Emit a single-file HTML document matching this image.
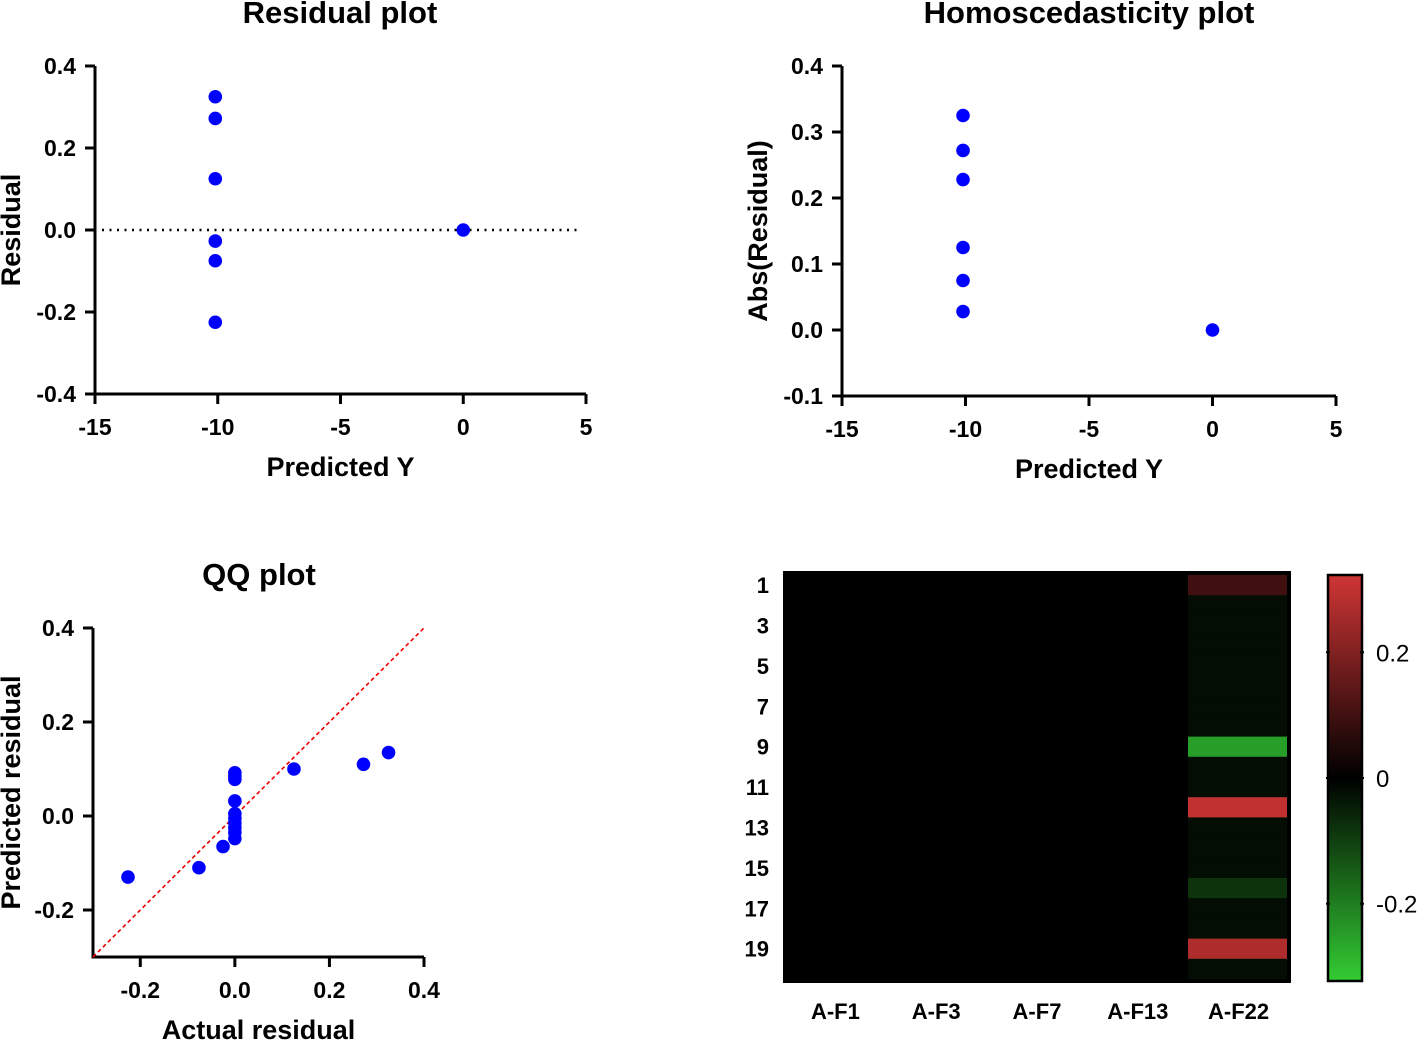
<!DOCTYPE html>
<html><head><meta charset="utf-8"><style>
html,body{margin:0;padding:0;background:#fff;}
svg{display:block;font-family:"Liberation Sans",Arial,sans-serif;}
</style></head><body>
<svg id="s" width="1418" height="1040" viewBox="0 0 1418 1040" xmlns="http://www.w3.org/2000/svg"></svg>
<script>
// ---- data ----
const resX = [-10.1,-10.1,-10.1,-10.1,-10.1,-10.1,0];
const resY = [0.325,0.272,0.125,-0.027,-0.075,-0.225,0];
const resXTicks = [-15,-10,-5,0,5];
const resYTicks = [-0.4,-0.2,0.0,0.2,0.4];

const homX = [-10.1,-10.1,-10.1,-10.1,-10.1,-10.1,0];
const homY = [0.325,0.272,0.228,0.125,0.075,0.028,0];
const homXTicks = [-15,-10,-5,0,5];
const homYTicks = [-0.1,0.0,0.1,0.2,0.3,0.4];

const qqX = [-0.226,-0.076,-0.025,0,0,0,0,0,0,0,0,0,0,0.125,0.272,0.325];
const qqY = [-0.13,-0.11,-0.065,0.092,0.085,0.078,0.032,0.005,-0.005,-0.015,-0.025,-0.035,-0.048,0.10,0.11,0.135];
const qqXTicks = [-0.2,0.0,0.2,0.4];
const qqYTicks = [-0.2,0.0,0.2,0.4];

const hmCols = ["A-F1","A-F3","A-F7","A-F13","A-F22"];
const hmRowLabels = [1,3,5,7,9,11,13,15,17,19];
const hmF22 = [0.10,-0.02,-0.02,-0.02,-0.02,-0.02,-0.02,-0.02,-0.25,-0.02,-0.02,0.30,-0.02,-0.02,-0.02,-0.08,-0.02,-0.02,0.27,-0.02];
const cbTicks = [-0.2,0,0.2];

const S = document.getElementById('s');
const NS = 'http://www.w3.org/2000/svg';
function mk(tag, attrs, parent){
  const e = document.createElementNS(NS, tag);
  for (const k in attrs) e.setAttribute(k, attrs[k]);
  (parent||S).appendChild(e);
  return e;
}
function txt(x,y,s,size,anchor,bold,parent,rot){
  const e = mk('text',{x:x,y:y,'font-size':size,'text-anchor':anchor||'middle','font-weight':bold?'bold':'normal',fill:'#000'},parent);
  if (rot) e.setAttribute('transform','rotate(-90 '+x+' '+y+')');
  e.textContent = s;
  return e;
}
function fmt(v,d){ return v.toFixed(d); }

function scatter(opt){
  const g = mk('g',{});
  
  
  const sx = v => opt.x0 + (v - opt.xmin) / (opt.xmax - opt.xmin) * (opt.x1 - opt.x0);
  const sy = v => opt.y0 - (v - opt.ymin) / (opt.ymax - opt.ymin) * (opt.y0 - opt.y1);
  const ax = mk('path',{d:`M${opt.x0} ${opt.y1} L${opt.x0} ${opt.y0} L${opt.x1} ${opt.y0}`,stroke:'#000','stroke-width':3,fill:'none'},g);
  
  
  opt.xticks.forEach(v=>{
    const x = sx(v);
    mk('line',{x1:x,y1:opt.y0,x2:x,y2:opt.y0+10,stroke:'#000','stroke-width':3},g);
    const t = txt(x, opt.y0+41, fmt(v,opt.xd), 23, 'middle', true, g);
    
    
  });
  opt.yticks.forEach(v=>{
    const y = sy(v);
    mk('line',{x1:opt.x0-10,y1:y,x2:opt.x0,y2:y,stroke:'#000','stroke-width':3},g);
    const t = txt(opt.x0-19, y+8, fmt(v,opt.yd), 23, 'end', true, g);
    
    
  });
  if (opt.extra) opt.extra(g, sx, sy);
  opt.xs.forEach((v,i)=>{
    const c = mk('circle',{cx:sx(v),cy:sy(opt.ys[i]),r:6.8,fill:'#0000ff'},g);
    
    
  });
  const ti = txt(opt.titleX, opt.titleY, opt.title, 31, 'middle', true, g);
  
  
  const xt = txt((opt.x0+opt.x1)/2, opt.y0+82, opt.xlabel, 27, 'middle', true, g);
  
  
  const yt = txt(opt.ytx, (opt.y0+opt.y1)/2, opt.ylabel, 27, 'middle', true, g, true);
  
  
}

scatter({name:'residual-plot',x0:95,x1:586,y0:394,y1:66,xmin:-15,xmax:5,ymin:-0.4,ymax:0.4,
  xticks:resXTicks,yticks:resYTicks,xd:0,yd:1,xs:resX,ys:resY,
  title:'Residual plot',titleX:340,titleY:23,xlabel:'Predicted Y',ylabel:'Residual',ytx:20,
  extra:(g,sx,sy)=>{
    const l = mk('line',{x1:102,y1:sy(0),x2:582,y2:sy(0),stroke:'#000','stroke-width':2.5,'stroke-dasharray':'2 5.5'},g);
    
    
  }});

scatter({name:'homoscedasticity-plot',x0:842,x1:1336,y0:396,y1:66,xmin:-15,xmax:5,ymin:-0.1,ymax:0.4,
  xticks:homXTicks,yticks:homYTicks,xd:0,yd:1,xs:homX,ys:homY,
  title:'Homoscedasticity plot',titleX:1089,titleY:23,xlabel:'Predicted Y',ylabel:'Abs(Residual)',ytx:767});

scatter({name:'qq-plot',x0:93,x1:424,y0:957,y1:628,xmin:-0.3,xmax:0.4,ymin:-0.3,ymax:0.4,
  xticks:qqXTicks,yticks:qqYTicks,xd:1,yd:1,xs:qqX,ys:qqY,
  title:'QQ plot',titleX:259,titleY:585,xlabel:'Actual residual',ylabel:'Predicted residual',ytx:20,
  extra:(g,sx,sy)=>{
    const l = mk('line',{x1:sx(-0.3),y1:sy(-0.3),x2:sx(0.4),y2:sy(0.4),stroke:'#ee0000','stroke-width':1.6,'stroke-dasharray':'4 3'},g);
    
    
  }});

// ---- heatmap ----
function colorFor(v){
  const m = 0.323;
  let t = Math.max(-1, Math.min(1, v/m));
  if (t >= 0) return `rgb(${Math.round(208*t)},${Math.round(53*t)},${Math.round(53*t)})`;
  t = -t; return `rgb(${Math.round(51*t)},${Math.round(204*t)},${Math.round(51*t)})`;
}
const hm = mk('g',{});


const hx0=783, hx1=1291, hy0=571, hy1=983;
mk('rect',{x:hx0,y:hy0,width:hx1-hx0,height:hy1-hy0,fill:'#000'},hm);
const colW = (1287-783)/5, rowTop = 575, rowH = (979-575)/20;
hmF22.forEach((v,i)=>{
  const r = mk('rect',{x:1188,y:rowTop+i*rowH,width:99,height:rowH+0.3,fill:colorFor(v)},hm);
  
  
});
hmCols.forEach((c,i)=>{
  const t = txt(783+(i+0.5)*colW+2, 1019, c, 22, 'middle', true, hm);
  
  
});
hmRowLabels.forEach(r=>{
  const t = txt(769, rowTop+(r-0.5)*rowH+8, String(r), 22, 'end', true, hm);
  
  
});
// colorbar
const cb = mk('g',{});


const defs = mk('defs',{});
const lg = mk('linearGradient',{id:'cbg',x1:0,y1:0,x2:0,y2:1},defs);
mk('stop',{offset:'0',  'stop-color':'#d03535'},lg);
mk('stop',{offset:'0.5','stop-color':'#000000'},lg);
mk('stop',{offset:'1',  'stop-color':'#33cc33'},lg);
const cy0=575, cy1=981, cbx=1328, cbw=34;
mk('rect',{x:cbx,y:cy0,width:cbw,height:cy1-cy0,fill:'url(#cbg)',stroke:'#000','stroke-width':2.5},cb);
const cbY = v => (cy0+cy1)/2 - v/0.323*((cy1-cy0)/2);
cbTicks.forEach(v=>{
  const y = cbY(v);
  mk('line',{x1:cbx-2,y1:y,x2:cbx+2,y2:y,stroke:'#000','stroke-width':2},cb);
  mk('line',{x1:cbx+cbw-2,y1:y,x2:cbx+cbw+2,y2:y,stroke:'#000','stroke-width':2},cb);
  const t = txt(1376, y+9, v===0?'0':v.toFixed(1), 24, 'start', false, cb);
  
  
});
</script>
</body></html>
